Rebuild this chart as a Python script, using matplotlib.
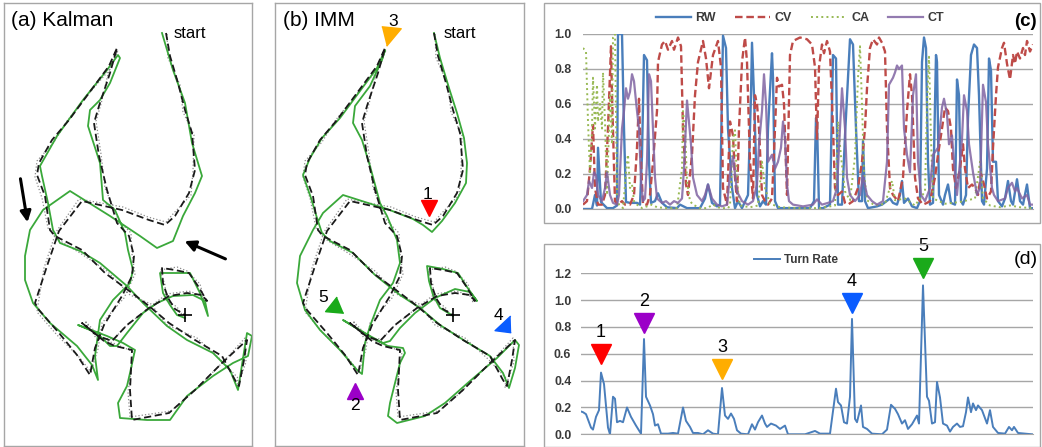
import numpy as np
import matplotlib
matplotlib.use('Agg')
import matplotlib.pyplot as plt
from matplotlib.patches import Rectangle

plt.rcParams['font.family'] = ['Liberation Sans', 'DejaVu Sans']

# ---------------- trajectory data (local map units, y grows downward) ----------------
truth_xy = [(159,30),(163,53),(171,80),(178,107),(185,130),(188,167),(182,190),(168,213),(158,222),
            (142,217),(115,207),(75,198),(52,228),(40,263),(28,300),(32,307),(52,330),(70,352),(83,372),
            (88,345),(97,322),(115,293),(125,273),(127,253),(122,233),(110,220),(100,187),(92,153),(87,120),
            (92,103),(103,70),(110,45),(102,63),(82,90),(62,117),(45,137),(32,160),(30,172),(38,193),(43,227),
            (48,233),(75,247),(98,270),(125,290),(142,303),(162,320),(188,337),(215,353),(228,377),(232,383),
            (237,357),(240,337),(215,360),(188,387),(162,410),(125,417),(123,387),(125,347),(108,343),(97,338),
            (75,320),(91,333),(105,338),(120,322),(142,305),(162,293),(180,290),(195,292),(200,298),(191,283),
            (182,270),(168,267),(155,265),(156,280),(161,295),(168,306),(178,312)]

meas_xy = [(160,31),(161,55),(173,82),(176,109),(187,132),(186,168),(184,192),(166,211),(159,219),
           (141,214),(116,204),(72,196),(49,229),(37,265),(31,302),(30,309),(50,332),(72,354),(84,369),
           (91,346),(95,320),(117,295),(128,271),(125,251),(124,230),(112,218),(98,185),(94,151),(89,118),
           (94,101),(101,71),(111,47),(104,65),(84,88),(60,118),(47,139),(30,158),(28,174),(35,195),(41,225),
           (50,236),(73,250),(100,268),(123,292),(144,301),(160,322),(190,335),(213,356),(231,375),(230,385),
           (239,359),(238,335),(217,358),(186,389),(164,408),(123,414),(121,389),(127,349),(106,340),(95,336),
           (78,318),(89,335),(107,336),(118,324),(144,303),(160,291),(182,288),(197,294),(198,300),(193,281),
           (180,268),(170,264),(153,267),(158,282),(159,297),(170,304),(176,313)]

imm_xy = [(159,30),(165,55),(174,85),(182,110),(189,135),(192,160),(191,180),(180,200),(167,218),(157,229),
          (148,222),(138,216),(112,206),(68,192),(48,210),(38,227),(25,253),(22,280),(30,307),(45,327),(65,347),
          (82,367),(87,371),(90,340),(95,323),(105,297),(118,280),(125,260),(122,237),(112,213),(105,200),(95,163),
          (87,137),(78,120),(80,103),(95,83),(107,57),(110,47),(102,65),(85,88),(65,115),(47,135),(35,155),(28,172),
          (36,195),(42,215),(47,230),(55,238),(78,250),(100,272),(125,292),(145,305),(165,322),(190,338),(215,353),
          (228,370),(234,385),(240,365),(244,342),(240,337),(222,355),(195,378),(170,400),(150,413),(122,420),
          (113,413),(115,400),(120,380),(125,360),(130,350),(128,345),(113,343),(97,335),(68,317),(95,333),
          (108,340),(115,338),(125,325),(140,310),(160,295),(180,286),(195,289),(202,298),(192,284),(183,270),
          (168,266),(152,263),(154,278),(158,292),(165,305),(175,311),(178,313)]

kalman_xy = [(155,30),(166,67),(178,100),(185,140),(195,173),(188,190),(176,213),(166,238),(150,245),(133,233),
             (103,213),(63,188),(36,207),(23,227),(18,253),(18,277),(26,300),(43,320),(70,343),(85,362),(91,377),
             (88,353),(93,317),(106,297),(123,280),(126,267),(121,247),(118,230),(108,207),(96,197),(93,160),
             (81,123),(83,107),(93,97),(103,80),(113,55),(111,52),(100,67),(76,97),(50,133),(33,163),(35,173),
             (41,200),(46,227),(53,240),(73,248),(93,260),(120,283),(136,300),(160,323),(180,337),(206,350),
             (223,367),(231,387),(240,330),(245,333),(241,353),(226,360),(206,373),(180,393),(163,417),(140,417),
             (113,415),(111,400),(120,383),(123,370),(128,347),(116,340),(100,333),(71,322),(90,330),(103,343),
             (110,343),(120,330),(136,310),(150,300),(166,293),(186,292),(198,298),(201,313),(193,290),(183,270),
             (153,270),(156,290),(163,302),(170,312),(178,315)]

end_xy = (178, 312)

# numbered turn markers in (b)
turn_labels = ['1', '2', '3', '4', '5']
turn_colors = ['#ff0000', '#9b00c8', '#ffad00', '#0a5cff', '#1aaa1a']
b_marker_xy = [(154,205),(80,388),(116,33),(230,323),(60,304)]
b_label_xy = [(152,191),(80,403),(118,18),(223,312),(48,295)]

# ---------------- model probabilities (c) ----------------
rw = [(0,0),(9,0),(12,0.08),(14,0.02),(15,0.35),(18,0.04),(24,0.005),(30,0.005),(34,0.02),(35,1.0),(39,1.0),
      (41,0.46),(43,0.04),(47,0.035),(54,0.035),(57,0.025),(59,0.31),(61,0.88),(64,0.85),(66,0.27),(68,0.035),
      (72,0.045),(75,0.09),(79,0.035),(84,0.01),(94,0.005),(97,0.025),(104,0.005),(117,0.005),(122,0.06),
      (125,0.14),(129,0.035),(134,0.015),(137,0.025),(140,0.99),(143,0.92),(145,0.46),(149,0.12),(152,0.005),
      (155,0.045),(159,0.005),(165,0.08),(168,0.65),(169,0.95),(171,0.65),(174,0.08),(177,0.015),(180,0.045),
      (183,0.025),(185,0.46),(189,0.89),(190,0.75),(192,0.045),(195,0.005),(204,0.005),(214,0.005),(227,0.005),
      (231,0.045),(233,0.52),(234,0.5),(236,0.005),(240,0.005),(247,0.025),(250,0.88),(253,0.86),(255,0.025),
      (259,0.025),(262,0.42),(267,0.97),(270,0.94),(273,0.46),(276,0.045),(279,0.045),(280,0.39),(282,0.045),
      (285,0.005),(294,0.015),(299,0.025),(307,0.06),(310,0.035),(314,0.025),(317,0.08),(319,0.16),(321,0.035),
      (325,0.06),(329,0.015),(334,0.005),(337,0.045),(339,0.84),(341,0.98),(343,0.92),(345,0.27),(347,0.025),
      (350,0.035),(353,0.88),(354,0.84),(356,0.08),(360,0.025),(362,0.08),(365,0.14),(368,0.035),(372,0.025),
      (374,0.74),(376,0.65),(378,0.045),(380,0.025),(383,0.08),(385,0.52),(388,0.88),(391,0.94),(394,0.92),
      (396,0.65),(399,0.045),(401,0.025),(404,0.23),(406,0.86),(408,0.79),(410,0.27),(413,0.27),(415,0.045),
      (419,0.015),(422,0.06),(425,0.16),(428,0.045),(430,0.025),(434,0.17),(437,0.045),(440,0.025),(444,0.14),
      (447,0.005),(450,0.005)]

cv = [(0,0.025),(4,0.045),(7,0.23),(10,0.48),(12,0.12),(15,0.025),(19,0.025),(22,0.08),(25,0.46),(28,0.93),
      (29,0.65),(32,0.045),(35,0.025),(39,0.045),(42,0.025),(47,0.025),(51,0.08),(54,0.35),(56,0.63),(58,0.27),
      (60,0.025),(64,0.025),(67,0.08),(70,0.27),(74,0.56),(75,0.84),(79,0.94),(82,0.96),(85,0.91),(89,0.96),
      (91,0.91),(95,0.98),(98,0.93),(100,0.46),(103,0.14),(105,0.08),(109,0.31),(112,0.65),(115,0.84),(120,0.96),
      (123,0.86),(126,0.69),(130,0.88),(135,0.96),(138,0.81),(140,0.12),(144,0.025),(147,0.5),(150,0.42),
      (152,0.18),(154,0.045),(156,0.46),(159,0.84),(162,0.98),(164,0.84),(167,0.27),(170,0.06),(172,0.65),
      (174,0.6),(176,0.46),(179,0.08),(182,0.045),(185,0.025),(189,0.06),(192,0.46),(194,0.75),(196,0.7),
      (199,0.71),(201,0.6),(204,0.08),(207,0.88),(210,0.96),(217,0.98),(224,0.97),(229,0.94),(232,0.81),
      (234,0.4),(236,0.81),(239,0.94),(241,0.89),(244,0.96),(247,0.9),(250,0.46),(252,0.12),(255,0.08),
      (259,0.1),(262,0.035),(265,0.025),(270,0.045),(275,0.12),(279,0.27),(282,0.46),(284,0.69),(287,0.92),
      (290,0.97),(294,0.94),(296,0.98),(299,0.95),(302,0.9),(304,0.46),(307,0.12),(310,0.08),(315,0.045),
      (320,0.18),(324,0.56),(327,0.77),(329,0.65),(332,0.18),(335,0.06),(340,0.025),(344,0.035),(347,0.045),
      (352,0.18),(355,0.31),(359,0.46),(362,0.58),(365,0.56),(368,0.46),(370,0.23),(373,0.12),(377,0.23),
      (380,0.37),(382,0.23),(385,0.12),(389,0.14),(392,0.12),(395,0.08),(398,0.2),(401,0.14),(404,0.06),
      (408,0.1),(410,0.35),(413,0.65),(415,0.81),(419,0.92),(421,0.95),(424,0.83),(427,0.74),(430,0.88),
      (432,0.83),(434,0.9),(437,0.86),(440,0.92),(442,0.88),(444,0.96),(447,0.9),(450,0.94)]

ca = [(0,0.92),(3,0.9),(5,0.5),(7,0.2),(9,0.46),(10,0.75),(12,0.46),(14,0.71),(15,0.5),(17,0.6),(19,0.46),
      (20,0.78),(22,0.5),(24,0.08),(25,0.27),(27,0.65),(29,0.37),(30,0.98),(32,1.0),(34,0.08),(36,0.025),
      (40,0.005),(44,0.27),(45,0.31),(47,0.12),(49,0.14),(51,0.045),(54,0.025),(59,0.005),(64,0.015),(69,0.025),
      (74,0.01),(84,0.005),(94,0.005),(99,0.23),(100,0.56),(102,0.46),(104,0.16),(107,0.045),(110,0.025),
      (117,0.005),(124,0.005),(130,0.025),(137,0.005),(145,0.005),(147,0.02),(150,0.4),(152,0.45),(154,0.15),
      (157,0.02),(167,0.01),(175,0.02),(179,0.27),(182,0.12),(187,0.03),(197,0.01),(217,0.005),(237,0.005),
      (252,0.02),(255,0.5),(258,0.3),(262,0.1),(267,0.05),(272,0.3),(275,0.75),(277,0.93),(279,0.6),(281,0.2),
      (284,0.05),(292,0.02),(302,0.03),(309,0.16),(312,0.05),(322,0.06),(332,0.02),(342,0.1),(344,0.6),
      (346,0.87),(348,0.4),(350,0.06),(362,0.03),(377,0.04),(392,0.06),(397,0.27),(400,0.06),(407,0.02),
      (417,0.01),(427,0.02),(437,0.01),(450,0.005)]

ct = [(0,0.045),(4,0.08),(6,0.16),(9,0.12),(11,0.21),(13,0.19),(15,0.08),(19,0.045),(22,0.12),(24,0.21),
      (27,0.08),(30,0.035),(34,0.025),(36,0.08),(39,0.46),(41,0.56),(43,0.69),(45,0.63),(47,0.67),(49,0.77),
      (51,0.73),(54,0.56),(56,0.46),(58,0.16),(60,0.045),(62,0.06),(64,0.27),(66,0.77),(68,0.73),(70,0.46),
      (72,0.18),(74,0.06),(79,0.035),(83,0.045),(87,0.025),(91,0.045),(95,0.035),(99,0.06),(101,0.23),(104,0.62),
      (105,0.56),(108,0.37),(110,0.18),(114,0.08),(119,0.045),(122,0.08),(125,0.14),(129,0.06),(134,0.025),
      (139,0.015),(144,0.025),(147,0.2),(150,0.3),(154,0.1),(159,0.045),(165,0.025),(170,0.045),(174,0.14),
      (176,0.37),(179,0.56),(181,0.77),(183,0.6),(185,0.27),(189,0.31),(192,0.23),(195,0.27),(198,0.35),(200,0.5),
      (202,0.4),(204,0.14),(206,0.045),(210,0.025),(220,0.015),(230,0.025),(234,0.055),(239,0.025),(245,0.035),
      (250,0.045),(254,0.12),(257,0.46),(259,0.69),(262,0.46),(264,0.18),(267,0.08),(272,0.045),(277,0.08),
      (280,0.19),(284,0.08),(289,0.045),(294,0.025),(300,0.045),(304,0.27),(306,0.71),(310,0.75),(312,0.78),
      (314,0.82),(316,0.8),(319,0.82),(321,0.46),(324,0.31),(327,0.21),(330,0.65),(333,0.77),(335,0.27),
      (338,0.08),(342,0.045),(347,0.12),(350,0.31),(355,0.35),(359,0.58),(361,0.63),(364,0.54),(366,0.37),
      (369,0.42),(371,0.27),(374,0.08),(379,0.4),(381,0.65),(384,0.56),(386,0.37),(390,0.21),(394,0.08),
      (397,0.12),(400,0.71),(403,0.61),(405,0.37),(409,0.12),(411,0.08),(415,0.045),(422,0.06),(425,0.12),
      (429,0.15),(432,0.1),(434,0.12),(439,0.06),(444,0.08),(447,0.025),(450,0.025)]

# ---------------- turn rate (d) ----------------
turn = [(0,0.17),(2,0.165),(5,0.15),(10,0.05),(12,0.035),(15,0.13),(18,0.18),(20,0.46),(23,0.375),(27,0.05),
        (29,0.0),(32,0.28),(34,0.265),(36,0.09),(39,0.1),(42,0.09),(46,0.2),(50,0.13),(55,0.065),(60,0.005),
        (63,0.71),(65,0.28),(69,0.215),(72,0.15),(74,0.065),(77,0.075),(80,0.005),(87,0.005),(92,0.01),(97,0.005),
        (102,0.2),(105,0.1),(109,0.055),(112,0.01),(117,0.01),(122,0.0),(127,0.03),(132,0.005),(137,0.0),
        (141,0.345),(144,0.14),(147,0.115),(150,0.155),(153,0.115),(156,0.03),(160,0.005),(167,0.0),(171,0.075),
        (174,0.035),(177,0.09),(181,0.14),(184,0.08),(186,0.055),(190,0.08),(195,0.065),(199,0.04),(204,0.065),
        (207,0.0),(224,0.0),(234,0.025),(239,0.005),(249,0.005),(255,0.34),(257,0.24),(260,0.215),(263,0.09),
        (266,0.08),(269,0.28),(271,0.86),(274,0.115),(276,0.09),(280,0.215),(282,0.055),(286,0.04),(291,0.005),
        (301,0.0),(306,0.035),(310,0.22),(314,0.19),(317,0.15),(321,0.08),(324,0.105),(327,0.04),(331,0.075),
        (336,0.14),(338,0.08),(342,1.11),(346,0.28),(348,0.25),(351,0.08),(354,0.09),(356,0.39),(359,0.275),
        (362,0.08),(366,0.065),(369,0.02),(372,0.055),(376,0.08),(379,0.055),(382,0.06),(385,0.165),(387,0.275),
        (390,0.165),(392,0.23),(395,0.18),(397,0.215),(401,0.18),(406,0.08),(409,0.18),(412,0.055),(417,0.01),
        (424,0.005),(428,0.055),(431,0.03),(433,0.055),(437,0.01),(444,0.005),(451,0.0)]

d_marker_t = [20, 63, 141, 271, 342]
d_marker_v = [0.60, 0.83, 0.49, 0.98, 1.24]

# ---------------- figure ----------------
W, H = 1042, 447
fig = plt.figure(figsize=(W / 100, H / 100), dpi=100)


def ax_px(x0, y0, x1, y1):
    return fig.add_axes([x0 / W, 1 - y1 / H, (x1 - x0) / W, (y1 - y0) / H])


def ftext(x, y, s, **kw):
    kw.setdefault('va', 'center')
    fig.text(x / W, 1 - y / H, s, **kw)


BORDER = '#a6a6a6'
GREEN = '#3aa83a'

tr = np.array(truth_xy, float)
me = np.array(meas_xy, float)
imm = np.array(imm_xy, float)
kal = np.array(kalman_xy, float)


def traj_panel(ax, est):
    ax.plot(me[:, 0], me[:, 1], ls=':', color='#8c8c8c', lw=0.9, zorder=1)
    ax.plot(est[:, 0], est[:, 1], color=GREEN, lw=1.3, zorder=2)
    ax.plot(tr[:, 0], tr[:, 1], color='#1a1a1a', lw=1.3, dashes=(4, 2), zorder=3)
    ax.plot([end_xy[0]], [end_xy[1]], marker='+', color='k', ms=10, mew=1.2, zorder=4)
    ax.set_xticks([])
    ax.set_yticks([])
    for s in ax.spines.values():
        s.set_color(BORDER)
        s.set_linewidth(1.0)


# (a)
axa = ax_px(4, 3, 252, 446)
traj_panel(axa, kal)
axa.set_xlim(-3, 245)
axa.set_ylim(443, 0)
axa.annotate('', xy=(21, 222), xytext=(13, 173),
             arrowprops=dict(arrowstyle='-|>', color='k', lw=2.2, mutation_scale=16))
axa.annotate('', xy=(175, 237), xytext=(221, 257),
             arrowprops=dict(arrowstyle='-|>', color='k', lw=2.2, mutation_scale=16))
ftext(11, 20, '(a) Kalman', fontsize=15)
ftext(174, 34, 'start', fontsize=12)

# (b)
axb = ax_px(275, 3, 524, 446)
traj_panel(axb, imm)
axb.set_xlim(0, 249)
axb.set_ylim(443, 0)
b_shapes = ['v', '^',
            [(-1, 1), (1, 0.8), (-0.5, -1)],
            [(0.5, 1), (-1, -0.4), (0.55, -0.6)],
            [(0.15, 1), (-0.95, -0.4), (0.8, -0.55)]]
b_sizes = [12, 12, 14, 15, 15]
for (mx, my), (lx, ly), lab, col, shp, ms in zip(b_marker_xy, b_label_xy, turn_labels,
                                                 turn_colors, b_shapes, b_sizes):
    axb.plot([mx], [my], marker=shp, ms=ms, color=col, mec=col, ls='none', zorder=6, clip_on=False)
    axb.text(lx, ly, lab, fontsize=12.5, ha='center', va='center', zorder=7)
ftext(283, 20, '(b) IMM', fontsize=15)
ftext(444, 33, 'start', fontsize=12)

# (c)
fig.patches.append(Rectangle((544 / W, 1 - 223 / H), (1040 - 544) / W, (223 - 3) / H,
                             transform=fig.transFigure, fill=False, ec=BORDER, lw=1.0))
axc = ax_px(583, 34, 1033, 209)
series = [('RW', rw, dict(color='#4a7ebb', lw=1.7)),
          ('CV', cv, dict(color='#be4b48', lw=1.7, dashes=(3.2, 1.6))),
          ('CA', ca, dict(color='#98b954', lw=1.4, ls=':')),
          ('CT', ct, dict(color='#8064a2', lw=1.6, alpha=0.85))]
handles = []
for name, data, st in series:
    t, v = zip(*data)
    h, = axc.plot(t, v, label=name, **st)
    handles.append(h)
axc.set_xlim(0, 450)
axc.set_ylim(0, 1.0)
axc.set_yticks(np.arange(0, 1.01, 0.2))
axc.set_yticklabels([f'{v:.1f}' for v in np.arange(0, 1.01, 0.2)])
axc.set_xticks([])
axc.grid(axis='y', color='#a6a6a6', lw=1.0)
axc.set_axisbelow(True)
for k in ['top', 'right', 'left']:
    axc.spines[k].set_visible(False)
axc.spines['bottom'].set_color('#a6a6a6')
axc.tick_params(axis='y', length=0, pad=8, labelsize=8.8, labelcolor='#3a3a3a')
for lbl in axc.get_yticklabels():
    lbl.set_fontweight('bold')
fig.legend(handles=handles, labels=['RW', 'CV', 'CA', 'CT'], loc='center',
           bbox_to_anchor=(800 / W, 1 - 18 / H), ncol=4, frameon=False,
           prop=dict(size=9, weight='bold'), handlelength=2.8, columnspacing=1.5,
           handletextpad=0.4, labelcolor='#3a3a3a')
ftext(1025, 21, '(c)', fontsize=13.5, fontweight='bold', ha='center')

# (d)
fig.patches.append(Rectangle((544 / W, 0), (1040 - 544) / W, (447 - 244) / H,
                             transform=fig.transFigure, fill=False, ec=BORDER, lw=1.0))
axd = ax_px(581, 273.3, 1033, 434.3)
tt, tv = zip(*turn)
hd, = axd.plot(tt, tv, color='#4a7ebb', lw=1.4)
axd.set_xlim(0, 452)
axd.set_ylim(0, 1.2)
axd.set_yticks(np.arange(0, 1.21, 0.2))
axd.set_yticklabels([f'{v:.1f}' for v in np.arange(0, 1.21, 0.2)])
axd.set_xticks([])
axd.grid(axis='y', color='#a6a6a6', lw=1.0)
axd.set_axisbelow(True)
for k in ['top', 'right', 'left']:
    axd.spines[k].set_visible(False)
axd.spines['bottom'].set_color('#a6a6a6')
axd.tick_params(axis='y', length=0, pad=7, labelsize=8.8, labelcolor='#3a3a3a')
for lbl in axd.get_yticklabels():
    lbl.set_fontweight('bold')
for t0, v0, lab, col in zip(d_marker_t, d_marker_v, turn_labels, turn_colors):
    axd.plot([t0], [v0], marker='v', ms=14, color=col, ls='none', clip_on=False, zorder=5)
    axd.annotate(lab, (t0, v0), xytext=(0, 9), textcoords='offset points',
                 ha='center', va='bottom', fontsize=13, annotation_clip=False)
fig.legend(handles=[hd], labels=['Turn Rate'], loc='center',
           bbox_to_anchor=(796 / W, 1 - 260 / H), frameon=False,
           prop=dict(size=8.5, weight='bold'), handlelength=2.2, handletextpad=0.3,
           labelcolor='#3a3a3a')
ftext(1026, 260, '(d)', fontsize=14, ha='center')

fig.savefig('out.png', dpi=100)
